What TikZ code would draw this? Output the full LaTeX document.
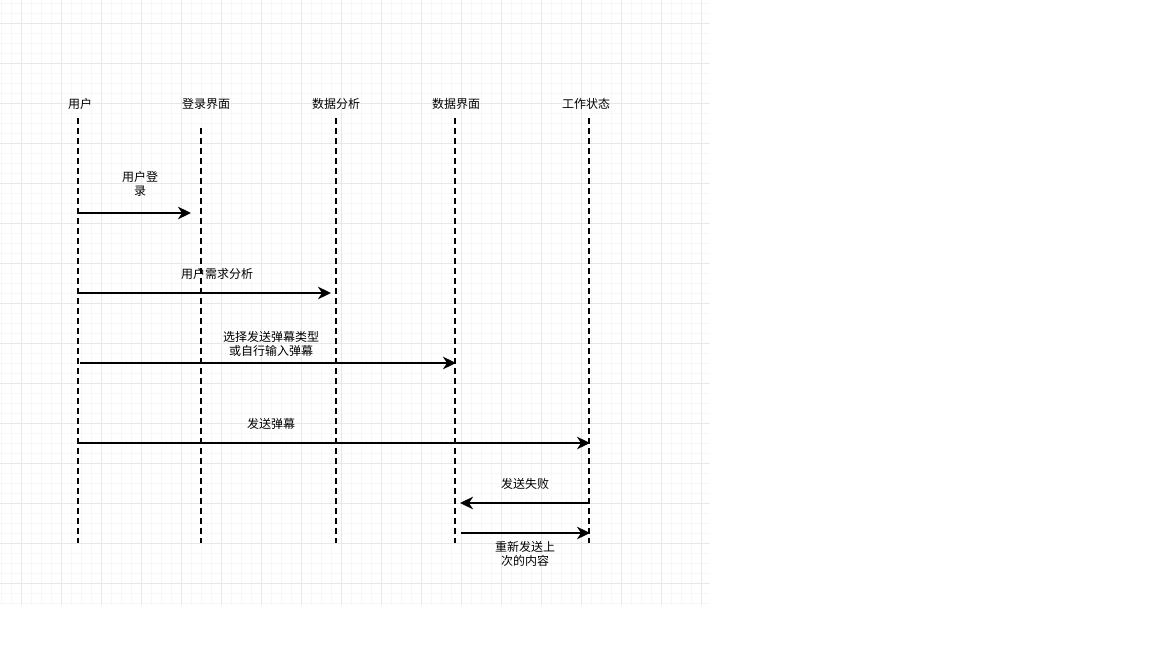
\documentclass[tikz,border=0pt]{standalone}
\usepackage{fontspec}
\setmainfont{Noto Sans CJK SC}
\usetikzlibrary{arrows.meta}
\begin{document}
\begin{tikzpicture}[x=1pt,y=-1pt,
  head/.style={font=\fontsize{12}{13}\selectfont, inner sep=0pt, anchor=center},
  msglabel/.style={font=\fontsize{12}{13.5}\selectfont, inner sep=0pt, align=center, anchor=center},
  lifeline/.style={line width=2pt, dash pattern=on 6pt off 4pt},
  msg/.style={line width=2pt, -{Stealth[length=13pt,width=12.5pt,inset=4pt]}},
  minorgrid/.style={draw=black!3, line width=0.8pt},
  majorgrid/.style={draw=black!9, line width=0.9pt}]
\useasboundingbox (0,0) rectangle (1152,648);
\fill[white] (0,0) rectangle (1152,648);

% background grid
\foreach \gx in {1,11,...,701} \draw[minorgrid] (\gx,0) -- (\gx,605);
\foreach \gy in {3,13,...,603} \draw[minorgrid] (0,\gy) -- (710,\gy);
\foreach \gx in {21,61,...,701} \draw[majorgrid] (\gx,0) -- (\gx,605);
\foreach \gy in {23,63,...,583} \draw[majorgrid] (0,\gy) -- (710,\gy);

% participants
\node[head] (pUser)  at (80,104)  {用户};
\node[head] (pLogin) at (206,104) {登录界面};
\node[head] (pAna)   at (336,104) {数据分析};
\node[head] (pData)  at (456,104) {数据界面};
\node[head] (pWork)  at (586,104) {工作状态};

% lifelines
\coordinate (uTop) at (78,118);  \coordinate (uBot) at (78,543);
\coordinate (lTop) at (201,128); \coordinate (lBot) at (201,543);
\coordinate (aTop) at (336,118); \coordinate (aBot) at (336,543);
\coordinate (dTop) at (455,118); \coordinate (dBot) at (455,543);
\coordinate (wTop) at (589,118); \coordinate (wBot) at (589,543);
\draw[lifeline] (uTop) -- (uBot);
\draw[lifeline] (lTop) -- (lBot);
\draw[lifeline] (aTop) -- (aBot);
\draw[lifeline] (dTop) -- (dBot);
\draw[lifeline] (wTop) -- (wBot);

% message end points
\coordinate (m1s) at (77,213);  \coordinate (m1e) at (191,213);
\coordinate (m2s) at (77,293);  \coordinate (m2e) at (331,293);
\coordinate (m3s) at (80,363);  \coordinate (m3e) at (456,363);
\coordinate (m4s) at (77,443);  \coordinate (m4e) at (590,443);
\coordinate (m5s) at (589,503); \coordinate (m5e) at (460,503);
\coordinate (m6s) at (461,533); \coordinate (m6e) at (590,533);

% messages
\draw[msg] (m1s) -- (m1e);
\draw[msg] (m2s) -- (m2e);
\draw[msg] (m3s) -- (m3e);
\draw[msg] (m4s) -- (m4e);
\draw[msg] (m5s) -- (m5e);
\draw[msg] (m6s) -- (m6e);

% message labels
\node[msglabel] (t1) at (140,184) {用户登\\录};
\node[msglabel] (t2) at (217,274) {用户需求分析};
\node[msglabel] (t3) at (271,344) {选择发送弹幕类型\\或自行输入弹幕};
\node[msglabel] (t4) at (271,424) {发送弹幕};
\node[msglabel] (t5) at (525,484) {发送失败};
\node[msglabel] (t6) at (525,554) {重新发送上\\次的内容};
\end{tikzpicture}
\end{document}
